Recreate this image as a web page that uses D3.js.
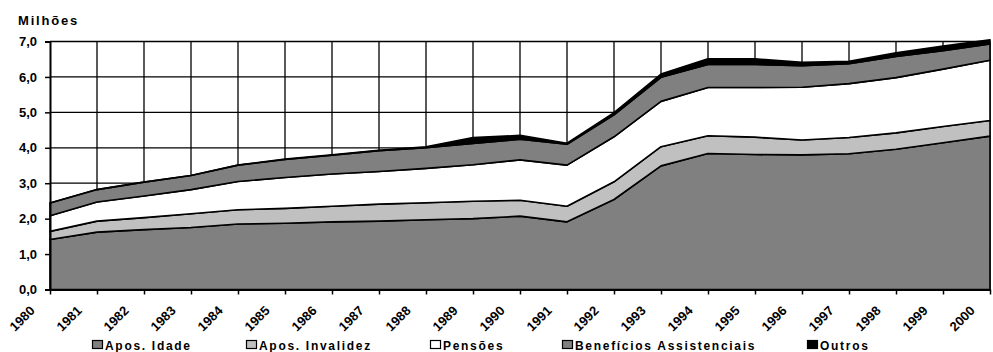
<!DOCTYPE html>
<html>
<head>
<meta charset="utf-8">
<script src="https://cdn.jsdelivr.net/npm/d3@7"></script>
<style>
  body { margin: 0; background: #fff; }
  svg { display: block; font-family: "Liberation Sans", Arial, sans-serif; font-weight: bold; }
</style>
</head>
<body>
<svg id="chart" width="993" height="352"></svg>
<script>
// Benefícios por espécie, em milhões
const years = ["1980","1981","1982","1983","1984","1985","1986","1987","1988","1989","1990",
               "1991","1992","1993","1994","1995","1996","1997","1998","1999","2000"];
const aposIdade      = [1.41,1.62,1.69,1.75,1.85,1.87,1.91,1.93,1.97,2.00,2.07,1.91,2.54,3.49,3.84,3.81,3.80,3.83,3.96,4.14,4.33];
const aposInvalidez  = [0.23,0.31,0.34,0.39,0.40,0.42,0.44,0.48,0.48,0.49,0.45,0.44,0.50,0.54,0.50,0.49,0.42,0.46,0.46,0.46,0.44];
const pensoes        = [0.44,0.54,0.61,0.68,0.80,0.87,0.91,0.92,0.97,1.03,1.14,1.16,1.27,1.28,1.36,1.40,1.49,1.52,1.56,1.62,1.70];
const beneficios     = [0.36,0.35,0.39,0.40,0.46,0.51,0.53,0.59,0.58,0.60,0.58,0.59,0.62,0.68,0.65,0.65,0.61,0.56,0.60,0.52,0.46];
const outros         = [0.00,0.00,0.00,0.00,0.00,0.01,0.01,0.01,0.03,0.17,0.11,0.03,0.06,0.09,0.16,0.16,0.09,0.07,0.10,0.13,0.12];
const seriesNames    = ["Apos. Idade","Apos. Invalidez","Pensões","Benefícios Assistenciais","Outros"];
const seriesColors   = ["#808080","#c0c0c0","#ffffff","#808080","#000000"];
const yTicks         = [0,1,2,3,4,5,6,7];

const keys = ["idade","invalidez","pensoes","beneficios","outros"];
const rows = years.map((yr, i) => ({
  year: yr,
  idade: aposIdade[i],
  invalidez: aposInvalidez[i],
  pensoes: pensoes[i],
  beneficios: beneficios[i],
  outros: outros[i]
}));

const svg = d3.select("#chart");
const plotLeft = 50, plotRight = 990, plotTop = 41.5, plotBottom = 289.5;

const x = d3.scalePoint().domain(years).range([plotLeft, plotRight]);
const y = d3.scaleLinear().domain([0, 7]).range([plotBottom, plotTop]);
const fmt = v => d3.format(".1f")(v).replace(".", ",");

// grid
const grid = svg.append("g").attr("stroke", "#000").attr("stroke-width", 1.3);
grid.selectAll("line.h").data(yTicks.slice(1)).join("line").attr("class", "h")
  .attr("x1", plotLeft).attr("x2", plotRight)
  .attr("y1", d => y(d)).attr("y2", d => y(d));
grid.selectAll("line.v").data(years.slice(1)).join("line").attr("class", "v")
  .attr("x1", d => x(d)).attr("x2", d => x(d))
  .attr("y1", plotTop).attr("y2", plotBottom);

// stacked areas
const stacked = d3.stack().keys(keys)(rows);
const area = d3.area()
  .x(d => x(d.data.year))
  .y0(d => y(d[0]))
  .y1(d => y(d[1]));
svg.append("g").selectAll("path").data(stacked).join("path")
  .attr("d", area)
  .attr("fill", (d, i) => seriesColors[i])
  .attr("stroke", "#000")
  .attr("stroke-width", 1.6)
  .attr("stroke-linejoin", "round");

// axes
const yAxis = svg.append("g").attr("transform", `translate(${plotLeft},0)`)
  .call(d3.axisLeft(y).tickValues(yTicks).tickFormat(fmt).tickSize(5).tickPadding(8));
yAxis.select(".domain").attr("stroke-width", 2);
yAxis.selectAll(".tick line").attr("stroke-width", 1.5);
yAxis.selectAll("text").attr("font-size", 13).attr("font-weight", "bold")
  .attr("font-family", "Liberation Sans, Arial, sans-serif").attr("fill", "#000");

const xAxis = svg.append("g").attr("transform", `translate(0,${plotBottom})`)
  .call(d3.axisBottom(x).tickSizeInner(5).tickSizeOuter(0));
xAxis.select(".domain").attr("stroke-width", 2.2);
xAxis.selectAll(".tick line").attr("stroke-width", 1.5);
xAxis.selectAll("text")
  .attr("font-size", 13).attr("font-weight", "bold")
  .attr("font-family", "Liberation Sans, Arial, sans-serif").attr("fill", "#000")
  .attr("text-anchor", "end")
  .attr("dy", null).attr("y", null)
  .attr("transform", "translate(-15,22) rotate(-45)");

// unit label
svg.append("text").attr("x", 18).attr("y", 25)
  .attr("font-size", 13).attr("letter-spacing", 1.8)
  .text("Milhões");

// legend
const legendX = [92, 246, 430, 562, 807];
const legend = svg.append("g").selectAll("g").data(seriesNames).join("g")
  .attr("transform", (d, i) => `translate(${legendX[i]},340)`);
legend.append("rect").attr("x", 0.5).attr("y", 0.5).attr("width", 10).attr("height", 8)
  .attr("fill", (d, i) => seriesColors[i]).attr("stroke", "#000").attr("stroke-width", 1.2);
legend.append("text").attr("x", 13).attr("y", 9.5)
  .attr("font-size", 12).attr("letter-spacing", 1.7)
  .text(d => d);
</script>
</body>
</html>
